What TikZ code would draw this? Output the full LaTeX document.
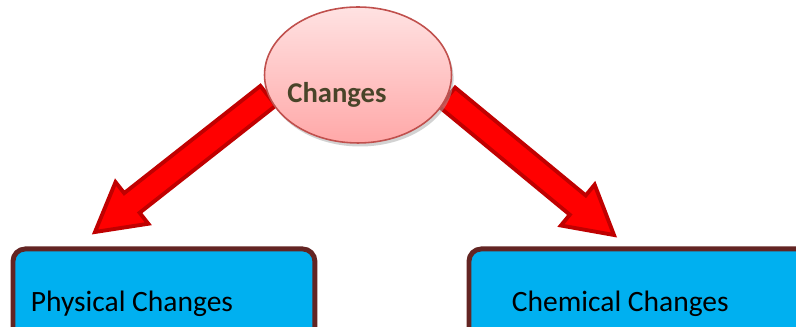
\documentclass[tikz,border=0pt]{standalone}
\usepackage{fontspec}
\setmainfont{Carlito}
\usetikzlibrary{shapes.geometric,calc,shadows,positioning}
\pgfdeclarelayer{back}
\pgfsetlayers{back,main}
\definecolor{chgline}{RGB}{192,80,77}
\definecolor{chgtop}{RGB}{255,226,226}
\definecolor{chgbot}{RGB}{255,168,168}
\definecolor{chgtext}{RGB}{73,68,41}
\definecolor{boxfill}{RGB}{0,176,240}
\definecolor{boxline}{RGB}{99,37,35}
\definecolor{arrfill}{RGB}{255,0,0}
\definecolor{arrline}{RGB}{192,0,0}

\tikzset{
  bigarrow/.style={fill=arrfill, draw=arrline, line width=2.2pt},
  chgshape/.style={ellipse, draw=chgline, line width=0.9pt, top color=chgtop, bottom color=chgbot,
    minimum width=3.74cm, minimum height=2.72cm, inner sep=0pt,
    drop shadow={shadow xshift=1.2pt, shadow yshift=-2pt, fill=black!35}},
  chglabel/.style={anchor=base west, inner sep=0pt, text=chgtext, font=\bfseries\fontsize{16.3}{19}\selectfont},
  changebox/.style={draw=boxline, fill=boxfill, line width=2.8pt, rounded corners=7pt,
    minimum height=2cm, inner sep=0pt, anchor=north west},
  boxtext/.style={anchor=base west, inner sep=0pt, font=\fontsize{16.8}{20}\selectfont},
}

% block arrow from #1 to #2
\newcommand{\blockarrow}[2]{%
  \draw[bigarrow] ($(#1)!0.25cm!90:(#2)$)
    -- ($(#2)!0.94cm!(#1)!0.25cm!-90:(#1)$)
    -- ($(#2)!0.94cm!(#1)!0.53cm!-90:(#1)$)
    -- (#2)
    -- ($(#2)!0.94cm!(#1)!0.53cm!90:(#1)$)
    -- ($(#2)!0.94cm!(#1)!0.25cm!90:(#1)$)
    -- ($(#1)!0.25cm!-90:(#2)$) -- cycle;}

\begin{document}
\begin{tikzpicture}[x=0.02cm, y=-0.02cm]
  \useasboundingbox (0,0) rectangle (796,327);
  \clip (0,0) rectangle (796,327);

  % top node
  \node[chgshape] (chg) at (358,75) {};
  \node[chglabel] (chgtxt) at (287,103) {Changes};

  % the two kinds
  \node[changebox, minimum width=6.04cm] (phys) at (10.5,246.5) {};
  \node[boxtext] (phystxt) at ($(phys.north west)+(20,65.5)$) {Physical Changes};
  \node[changebox, minimum width=8cm] (chem) at (466.5,246.5) {};
  \node[boxtext] (chemtxt) at ($(chem.north west)+(45,65.5)$) {Chemical Changes};

  % arrows, behind the ellipse
  \coordinate (ptip) at (95,232);
  \coordinate (ctip) at (614,235);
  \begin{pgfonlayer}{back}
    \blockarrow{chg.193}{ptip}
    \blockarrow{chg.346}{ctip}
  \end{pgfonlayer}
\end{tikzpicture}
\end{document}
